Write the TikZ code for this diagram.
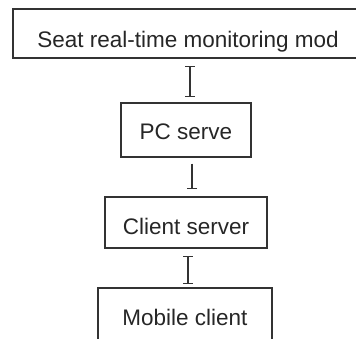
\documentclass[tikz,border=0pt]{standalone}
\usepackage{fontspec}
\setmainfont{Liberation Sans}
\usetikzlibrary{arrows.meta}
\begin{document}
\begin{tikzpicture}[x=1pt,y=1pt,
  box/.style={draw=black!80, line width=1.4pt, inner sep=0pt, font=\fontsize{22.5}{26}\selectfont, text=black!85},
  conn/.style={draw=black!80, line width=1.4pt},
  bb/.style={conn, {Bar[width=10pt,line width=1.4pt]}-{Bar[width=10pt,line width=1.4pt]}},
  ob/.style={conn, -{Bar[width=10pt,line width=1.4pt]}}]
\clip (0,0) rectangle (356,338);
\useasboundingbox (0,0) rectangle (356,338);
% top box: x 13..363, top y=9, baseline 48, bottom 58
\node[box, anchor=base, minimum width=350pt, text height=39pt, text depth=10pt] (top) at (188,290) {Seat real-time monitoring mod};
% PC serve: x 121..251, top 103, baseline 139, bottom 157
\node[box, anchor=base, minimum width=130pt, text height=36pt, text depth=18pt] (pc) at (186,199) {PC serve};
% Client server: x 105..267, top 197, baseline 234, bottom 248
\node[box, anchor=base, minimum width=162pt, text height=37pt, text depth=14pt] (cs) at (186,104) {Client server};
% Mobile client: x 98..272, top 288, baseline 325
\node[box, anchor=base, minimum width=174pt, text height=37pt, text depth=25pt] (mc) at (185,13) {Mobile client};
\draw[bb, shorten <=7pt, shorten >=5pt] (top.south -| 190,0) -- (pc.north -| 190,0);
\draw[ob, shorten <=6pt, shorten >=7pt] (pc.south -| 192,0) -- (cs.north -| 192,0);
\draw[bb, shorten <=7pt, shorten >=3pt] (cs.south -| 188,0) -- (mc.north -| 188,0);
\end{tikzpicture}
\end{document}
